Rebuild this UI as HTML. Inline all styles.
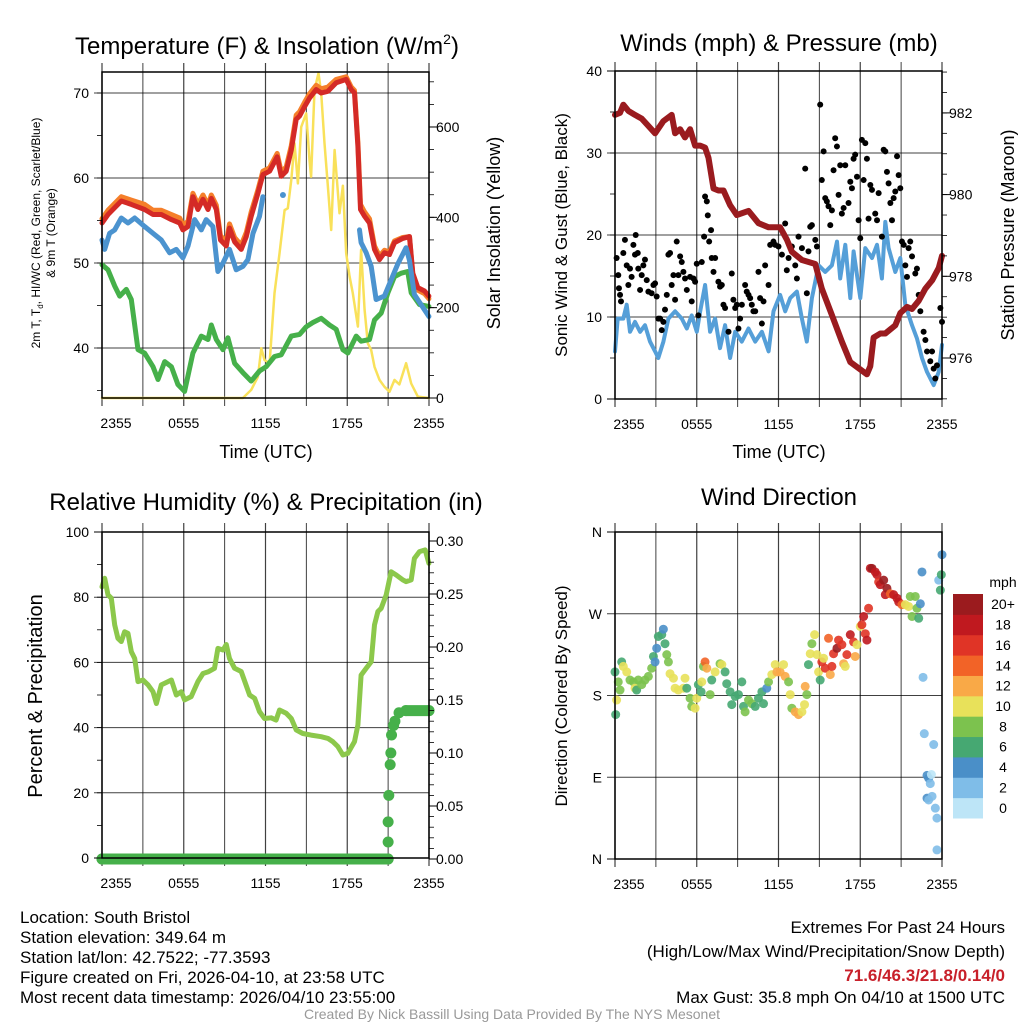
<!DOCTYPE html>
<html><head><meta charset="utf-8"><style>
html,body{margin:0;padding:0;background:#fff}
svg{display:block;font-family:"Liberation Sans",sans-serif}
</style></head><body>
<svg id="chart" xmlns="http://www.w3.org/2000/svg" width="1024" height="1024" viewBox="0 0 1024 1024">
<rect x="0" y="0" width="1024" height="1024" fill="#fff"/>
<g id="grids"></g>
<g id="series"></g>
<g id="axes"></g>
<g font-size="24" text-anchor="middle" fill="#000">
<text x="267" y="54">Temperature (F) &amp; Insolation (W/m<tspan font-size="14" dy="-10">2</tspan><tspan dy="10">)</tspan></text>
<text x="779" y="51">Winds (mph) &amp; Pressure (mb)</text>
<text x="266" y="510">Relative Humidity (%) &amp; Precipitation (in)</text>
<text x="779" y="505">Wind Direction</text>
</g>
<g font-size="18" text-anchor="middle">
<text x="266" y="458">Time (UTC)</text>
<text x="779" y="458">Time (UTC)</text>
<text transform="translate(500,233) rotate(-90)">Solar Insolation (Yellow)</text>
<text transform="translate(567,235) rotate(-90)" font-size="17">Sonic Wind &amp; Gust (Blue, Black)</text>
<text transform="translate(1014,235) rotate(-90)">Station Pressure (Maroon)</text>
<text transform="translate(42,696) rotate(-90)" font-size="20">Percent &amp; Precipitation</text>
<text transform="translate(567,696) rotate(-90)" font-size="17">Direction (Colored By Speed)</text>
</g>
<g font-size="12" text-anchor="middle">
<text transform="translate(40,233) rotate(-90)">2m T, T<tspan font-size="8" dy="3">d</tspan><tspan dy="-3">, HI/WC (Red, Green, Scarlet/Blue)</tspan></text>
<text transform="translate(55,233) rotate(-90)">&amp; 9m T (Orange)</text>
</g>
<g font-size="17" fill="#000">
<text x="20" y="923">Location: South Bristol</text>
<text x="20" y="943">Station elevation: 349.64 m</text>
<text x="20" y="963">Station lat/lon: 42.7522; -77.3593</text>
<text x="20" y="983">Figure created on Fri, 2026-04-10, at 23:58 UTC</text>
<text x="20" y="1003">Most recent data timestamp: 2026/04/10 23:55:00</text>
<g text-anchor="end">
<text x="1005" y="933">Extremes For Past 24 Hours</text>
<text x="1005" y="957">(High/Low/Max Wind/Precipitation/Snow Depth)</text>
<text x="1005" y="981" fill="#c8202a" font-weight="bold">71.6/46.3/21.8/0.14/0</text>
<text x="1005" y="1003">Max Gust: 35.8 mph On 04/10 at 1500 UTC</text>
</g>
</g>
<text x="512" y="1019" font-size="14" fill="#999" text-anchor="middle">Created By Nick Bassill Using Data Provided By The NYS Mesonet</text>
</svg>
<script>
// ---- Temperature panel data (hours since 2355 UTC) ----
const tempHours = [0,0.44,1.42,2.15,3.13,3.74,4.35,5.09,5.7,5.94,6.31,6.67,7.04,7.41,7.78,8.02,8.39,8.7,9.12,9.36,9.73,10.22,10.59,10.95,11.44,11.81,12.3,12.86,13.15,13.52,13.89,14.25,14.5,14.87,15.23,15.72,16.09,16.58,17.19,17.92,18.29,18.53,18.78,18.97,19.27,19.63,20,20.37,20.73,21.1,21.47,22.08,22.57,22.81,23.18,23.67,23.99];
const temp2m = [54.7,55.7,57.3,56.9,56.3,55.7,55.7,55.1,54.7,53.9,54.3,57.8,56.3,57.5,56.3,57.6,56.3,52.7,52,54.1,52.5,51.6,53.1,55.5,58.2,60.4,60.8,62.5,60.2,60.8,63.3,66.9,67.3,68.4,69.4,70.4,70,70.2,71.2,71.6,70.4,70,63.7,56.3,55.5,54.7,51.6,50.4,51.2,51,52.4,52.9,53.1,48.8,47.1,46.7,46.1];
const temp9m = [55.2,56.2,57.8,57.4,56.9,56.2,56.2,55.7,55.3,54.5,54.9,58.2,56.9,58,56.8,58,56.8,53.2,52.5,54.6,53,52.1,53.6,56,58.6,60.8,61.2,62.9,60.7,61.3,63.8,67.4,67.8,68.9,69.9,70.9,70.5,70.7,71.6,71.9,70.7,70.3,64.2,56.9,56,55.2,52,50.8,51.5,51.3,52.6,53,53.1,48.6,46.8,46.4,45.8];
const hiwcHours = [0,0.2,0.56,0.93,1.42,1.91,2.4,3.13,3.74,4.35,4.96,5.45,5.94,6.31,6.8,7.29,7.65,8.14,8.51,8.88,9.36,9.85,10.34,10.71,11.08,11.56,11.81,12.5,13.28,14,18.9,19.02,19.39,19.76,20.12,20.73,21.22,21.71,22.32,22.57,22.93,23.99];
const hiwc = [52.7,51.6,53.5,53.9,55.3,54.7,55.3,54.3,53.5,52.7,51.2,51.6,50.6,52,55.1,53.9,55.1,54.3,49,50,51.6,49.2,49.6,50.4,53.5,55.5,57.8,null,58,null,53.9,52.4,51.2,49.6,45.7,46.1,48,49.9,51.8,50.3,46.3,43.7];
const dewHours = [0,0.44,0.93,1.3,1.78,2.15,2.64,3.13,3.74,4.11,4.6,5.09,5.57,6.06,6.67,7.29,7.78,8.02,8.39,8.88,9.24,9.73,10.34,10.95,11.56,12.05,12.66,13.15,13.89,14.5,14.99,15.48,16.09,16.7,17.19,17.68,18.04,18.66,19.02,19.63,20,20.49,20.98,21.47,21.96,22.44,22.69,23.3,23.99];
const dewpoint = [49.8,49.2,47.3,46.1,46.9,45.7,39.8,39.4,37.8,36.3,38.4,37.8,35.7,34.9,39.4,41.4,41,42.7,41,39.8,41.2,38.2,37.1,36.1,37.3,37.8,39,39.2,41.4,41.6,42.5,43,43.5,42.7,42.2,39.8,39.4,41.4,40.8,41,43.3,44.1,46.5,48.4,48.8,49,46.5,45.1,44.9];
const solarHours = [0,10.34,10.95,11.44,11.69,11.93,12.3,12.66,13.03,13.4,13.64,13.89,14.13,14.38,14.62,14.99,15.23,15.35,15.6,15.89,16.09,16.33,16.58,16.82,17.07,17.43,17.68,17.92,18.17,18.41,18.78,19.02,19.27,19.51,19.76,20,20.37,20.73,21.1,21.47,21.83,22.32,22.69,23.18,23.99];
const solar = [0,0,18,47,110,84,77,232,320,416,420,483,564,475,600,630,527,490,682,719,675,564,468,372,549,409,470,320,269,232,158,328,195,121,106,69,40,25,14,40,30,77,32,3,0];
// ---- Winds panel data ----
const windHours = [0,0.2,0.61,0.86,1.1,1.47,1.84,2.2,2.57,2.94,3.18,3.55,3.92,4.41,4.9,5.27,5.63,6,6.25,6.61,6.98,7.35,7.71,8.08,8.45,8.82,9.31,9.8,10.29,10.78,11.27,11.63,12.12,12.49,12.86,13.35,13.72,14.08,14.45,14.94,15.43,15.92,16.29,16.53,16.9,17.27,17.51,18,18.37,18.86,19.23,19.59,19.84,20.08,20.57,20.94,21.31,21.8,22.16,22.53,22.9,23.39,23.76,24];
const windSpeed = [5.8,9.8,9.8,11.5,8.2,9.4,8.2,9,7,5.8,5,7,9.8,10.7,9.8,8.6,10.2,8.2,10.7,13.9,8.2,9.8,6.2,9,5,8.2,7,8.6,7,8.2,5.8,10.7,12.7,10.7,12.3,13.1,9.8,7,12.3,16.3,15.5,16.3,19.2,14.7,18.8,12.3,18,12.3,18.4,17.2,18.8,14.7,21.6,18.4,15.5,17.2,11.5,9,7.4,5,3.3,1.7,3.3,6.6];
const gustHours = [0.12,0.24,0.29,0.37,0.44,0.61,0.73,0.86,0.98,1.1,1.22,1.35,1.47,1.52,1.67,1.71,1.84,1.96,2.08,2.2,2.33,2.45,2.69,2.82,2.94,3.06,3.18,3.31,3.43,3.55,3.67,3.8,3.92,4.04,4.16,4.29,4.41,4.53,4.65,4.78,4.9,5.02,5.14,5.27,5.51,5.63,5.76,5.88,6,6.12,6.37,6.54,6.61,6.74,6.81,6.91,7.05,7.1,7.23,7.35,7.59,7.71,7.84,7.96,8.08,8.33,8.57,8.69,8.82,8.94,9.06,9.18,9.31,9.55,9.67,9.8,9.92,10.04,10.16,10.29,10.53,10.65,10.78,10.9,11.02,11.27,11.39,11.63,11.76,12,12.25,12.49,12.61,12.74,12.98,13.23,13.35,13.47,13.72,13.96,14.08,14.2,14.33,14.45,14.7,14.82,15.06,15.18,15.31,15.43,15.55,15.67,15.8,15.92,16.04,16.16,16.29,16.41,16.53,16.65,16.78,16.9,17.14,17.27,17.39,17.51,17.63,17.76,17.88,18,18.12,18.25,18.37,18.49,18.61,18.74,18.86,19.1,19.23,19.35,19.59,19.72,19.84,19.96,20.08,20.21,20.33,20.45,20.57,20.7,20.82,20.94,21.06,21.19,21.31,21.43,21.55,21.67,21.8,22.04,22.16,22.29,22.41,22.65,22.78,22.9,23.14,23.27,23.39,23.51,23.63,23.88,24];
const gustSpeed = [17.2,15.1,13.5,12.7,11.9,17.8,19.4,16.3,13.9,15.9,14.9,18.8,17.6,20,17.8,15.9,13.3,15.1,16.3,17,14.5,13.1,12.9,13.9,14.1,12.5,9.8,9.8,8.4,9.4,10.9,12.7,17.6,17.8,13.9,15.1,12.1,19.2,15.1,17.4,16.7,15.5,14.7,13.3,14.9,11.9,14.7,14.3,16.5,10.2,16.7,19.8,24.7,24.1,22.4,19.2,20.6,17.2,15.5,17.2,14.3,13.7,13.9,11.5,11.1,8.2,15.3,12.1,11.1,11.5,8.6,9.8,11.5,13.9,13.1,12.7,12.3,11.5,10.7,10.7,15.5,12.3,9.2,11.9,16.3,13.9,18.8,19.2,18.8,18.6,17.6,21.4,15.7,17.2,18.6,16.3,14.7,19.8,18.4,28.1,12.9,18,21,21.2,19.4,18.6,35.9,26.7,30.2,24.5,24.1,23.5,21.2,23,27.9,31.8,30.8,24.9,28.5,22.6,23.3,28.5,23.9,26.5,25.7,29.3,29.8,27.1,21.8,19.6,31.6,26.7,31.2,29.3,22,26.1,25.5,22.6,21.8,25.1,19.8,30.4,30.2,27.7,26.3,23.9,21.8,24.5,25.3,29.6,27.3,25.7,19.2,18.8,16.3,14.9,18.4,19.2,17.4,15.3,15.9,12.7,10.7,8.2,7.2,5.8,4.6,5.8,3.7,2.5,4.1,11.1,9.4];
const presHours = [0,0.37,0.61,0.98,1.47,1.96,2.94,3.55,4.16,4.41,4.78,5.14,5.51,5.88,6.25,6.61,6.86,7.23,7.59,7.96,8.45,8.94,9.8,10.53,11.27,12.12,12.61,12.98,13.72,14.7,15.18,15.92,16.65,17.27,17.88,18.49,18.74,18.98,19.47,19.84,20.57,20.94,21.43,21.8,22.29,22.78,23.27,23.76,24];
const pressure = [981.95,982.0,982.2,982.05,981.95,981.86,981.5,981.8,981.95,981.5,981.6,981.4,981.6,981.2,981.2,981.15,980.9,980.15,980.1,980.1,979.74,979.5,979.6,979.3,979.2,979.2,978.9,978.6,978.4,978.3,977.7,977.05,976.4,975.9,975.75,975.6,975.8,976.5,976.6,976.6,976.8,977.1,977.25,977.2,977.4,977.7,977.9,978.2,978.5];
// ---- Humidity panel data ----
const rhHours = [0,0.2,0.44,0.68,0.93,1.17,1.42,1.66,1.91,2.15,2.4,2.64,3.01,3.38,3.74,3.99,4.35,4.6,5.09,5.45,5.82,6.06,6.55,7.04,7.41,7.78,8.26,8.51,8.88,9.12,9.36,9.73,10.22,10.83,11.2,11.56,11.93,12.42,12.78,13.03,13.52,13.89,14.25,14.74,15.35,16.09,16.58,16.94,17.31,17.68,18.04,18.53,18.78,19.02,19.39,19.76,20,20.25,20.49,20.86,21.22,21.59,22.08,22.32,22.69,22.93,23.3,23.72,23.99];
const rh = [83.2,85.8,80.7,79.7,71.5,67.4,66.4,69.4,68.9,63.3,61.2,54.1,54.6,53.1,51,47.4,53.1,53.6,54.6,50,51,48.5,49.5,54.1,56.6,57.1,58.2,64.3,63.8,65.5,61.2,58.2,57.2,50,49,44.9,42.8,43,42.3,45.4,44.4,42.8,39.3,38.2,37.7,37.2,36.7,35.7,34.2,31.6,32.1,35.7,40.8,56.1,58.2,60.2,71.5,75.6,76.6,80.7,87.8,86.8,85.3,84.8,85.3,91.9,94,94.5,90.4];
const precipHours = [0,21.0,21.0,21.0,21.05,21.15,21.2,21.25,21.4,21.5,21.8,22.3,24];
const precip = [0,0,0.016,0.035,0.06,0.089,0.1,0.117,0.126,0.13,0.138,0.14,0.14];
// ---- Wind direction panel data ----
const dirHours = [0,0.12,0.05,0.24,0.37,0.49,0.61,0.86,1.1,1.35,1.47,1.59,1.71,1.96,2.2,2.45,2.69,2.82,2.94,3.06,3.18,3.43,3.55,3.67,3.8,3.92,4.04,4.29,4.41,4.65,5.02,5.14,5.27,5.51,5.63,5.88,6,6.12,6.37,6.32,6.49,6.61,6.74,6.98,7.1,7.35,7.71,7.84,8.08,8.2,8.45,8.57,8.82,9.06,9.31,9.43,9.55,9.8,10.04,10.29,10.53,10.78,10.9,11.14,11.27,11.51,11.76,11.88,12.12,12.37,12.49,12.74,12.86,12.98,13.23,13.47,13.72,13.91,13.96,14.08,14.2,14.33,14.45,14.65,14.82,14.94,15.06,15.18,15.31,15.43,15.67,15.8,15.92,16.04,16.29,16.41,16.65,16.78,16.9,17.02,17.27,17.51,17.63,17.76,18,18.12,18.25,18.37,18.49,18.61,18.74,18.86,19.1,19.23,19.35,19.47,19.72,19.84,19.96,20.21,20.45,20.7,20.82,21.06,21.31,21.55,21.67,21.8,22.04,22.16,22.29,22.41,22.53,22.61,22.7,22.9,23.02,23.14,23.22,22.9,23.02,23.27,23.39,23.51,23.63,23.63,23.76,23.88,23.95,24];
const dirDeg = [206,175,159,195,186,217,212,206,197,195,188,186,197,192,197,201,210,223,217,232,245,247,253,237,225,217,204,199,188,186,188,199,188,177,168,166,177,192,195,184,212,217,210,181,197,206,215,214,206,193,184,170,179,181,195,168,162,175,171,168,177,184,171,188,195,203,214,206,206,214,201,195,181,166,162,159,162,170,190,181,214,226,237,247,225,206,197,217,221,210,243,203,212,226,232,241,236,215,212,225,247,239,223,236,256,258,267,248,241,276,320,320,316,313,305,302,307,291,298,292,291,287,283,280,280,278,289,267,289,276,265,281,316,200,138,92,89,83,93,67,65,69,126,56,45,10,307,296,313,335];
const dirSpeed = [7,11,7,9,9,7,11,11,9,9,11,7,9,9,9,9,9,7,5,5,7,7,5,7,9,9,11,11,11,11,11,11,7,9,9,11,11,7,11,7,9,15,13,9,7,11,9,11,7,7,7,7,7,7,7,7,9,9,9,7,7,7,7,5,9,11,11,13,13,11,13,9,11,9,13,13,11,11,13,9,7,11,9,11,11,11,7,17,11,17,15,13,17,17,21,17,17,13,11,17,19,17,13,11,11,17,19,17,19,17,19,21,19,19,17,19,21,19,21,15,19,19,19,15,11,11,9,9,9,9,7,5,5,3,3,5,5,3,1,5,3,3,3,3,3,3,3,7,7,5];
const speedLabels = ["0","2","4","6","8","10","12","14","16","18","20+"];
const speedColors = ["#bde5f7","#7fbde8","#4a8fc8","#46a872","#7cc24e","#e8e15a","#f9a947","#f26327","#e03426","#c0191f","#9b1b1e"];

const NS = "http://www.w3.org/2000/svg";
const gGrid = document.getElementById('grids');
const gSer = document.getElementById('series');
const gAx = document.getElementById('axes');
function mk(parent, tag, attrs){const e=document.createElementNS(NS,tag);for(const k in attrs)e.setAttribute(k,attrs[k]);parent.appendChild(e);return e;}

const P1 = {x0:102,x1:429,y0:72,y1:398};
const P2 = {x0:615,x1:942,y0:71,y1:399};
const P3 = {x0:102,x1:429,y0:532,y1:858};
const P4 = {x0:615,x1:942,y0:532,y1:859};
const xL = h => P1.x0 + h*(P1.x1-P1.x0)/24;
const xR = h => P2.x0 + h*(P2.x1-P2.x0)/24;
const yTemp = t => 93 + (70-t)*8.5;
const ySolar = w => 398 - w*0.4517;
const yWind = m => 399 - m*8.2;
const yPres = p => 358 - (p-976)*40.85;
const yRH = r => 858 - r*3.26;
const yPrecip = p => 859 - p*1060;
const yDir = d => 859 - d*327/360;

function txt(parent, x, y, s, anchor, size){const t=mk(parent,'text',{x:x,y:y,'text-anchor':anchor,'font-size':size||14});t.textContent=s;return t;}

function frame(P, name, xf){
  for(let h=0;h<=24;h+=3){
    const x=xf(h);
    const l=mk(gGrid,'line',{x1:x,x2:x,y1:P.y0-9,y2:P.y1+8,stroke:'#000','stroke-width':(h%6===0?1.2:1),'stroke-opacity':0.75});
    
    
  }
  const r=mk(gAx,'rect',{x:P.x0,y:P.y0,width:P.x1-P.x0,height:P.y1-P.y0,fill:'none',stroke:'#000','stroke-width':1.5});
  
  
  const labs=["2355","0555","1155","1755","2355"];
  for(let i=0;i<5;i++){
    let x=xf(i*6); if(i===0) x+=14;
    const t=txt(gAx,x,P.y1+30,labs[i],'middle',14);
    
    
  }
}
function hgrid(P, name, yvals, yf, labels, side, minorStep, lo, hi){
  yvals.forEach((v,i)=>{
    const y=yf(v);
    if(side==='left'){
      if(y>P.y0+2 && y<P.y1-2){
        const l=mk(gGrid,'line',{x1:P.x0-8,x2:P.x1,y1:y,y2:y,stroke:'#000','stroke-width':1,'stroke-opacity':0.75});
        
        
      } else {
        const l=mk(gAx,'line',{x1:P.x0-8,x2:P.x0,y1:y,y2:y,stroke:'#000','stroke-width':1});
        
        
      }
      const t=txt(gAx,P.x0-13,y+5,labels[i],'end',14);
      
      
    } else {
      const l=mk(gAx,'line',{x1:P.x1,x2:P.x1+8,y1:y,y2:y,stroke:'#000','stroke-width':1});
      
      
      const t=txt(gAx,P.x1+7,y+5,labels[i],'start',14);
      
      
    }
  });
  if(minorStep){
    for(let v=lo; v<=hi+1e-9; v+=minorStep){
      const y=yf(v); if(y<P.y0-1||y>P.y1+1) continue;
      const x1 = side==='left'?P.x0-5:P.x1, x2 = side==='left'?P.x0:P.x1+5;
      const l=mk(gAx,'line',{x1:x1,x2:x2,y1:y,y2:y,stroke:'#000','stroke-width':0.8});
      
      
    }
  }
}
function line(xs, ys, xf, yf, color, w, name){
  let seg=[];
  const flush=()=>{
    if(seg.length===1){
      const c=mk(gSer,'circle',{cx:seg[0][0],cy:seg[0][1],r:w/2+0.5,fill:color});
      
      
    } else if(seg.length>1){
      const p=mk(gSer,'polyline',{points:seg.map(q=>q[0].toFixed(1)+','+q[1].toFixed(1)).join(' '),fill:'none',stroke:color,'stroke-width':w,'stroke-linejoin':'round','stroke-linecap':'round'});
      
      
    }
    seg=[];
  };
  for(let i=0;i<xs.length;i++){
    if(ys[i]===null){flush();continue;}
    seg.push([xf(xs[i]),yf(ys[i])]);
  }
  flush();
}

frame(P1,'temperature',xL);
hgrid(P1,'temperature',[40,50,60,70],yTemp,["40","50","60","70"],'left',5,35,70);
hgrid(P1,'solar',[0,200,400,600],ySolar,["0","200","400","600"],'right',50,0,700);
line(solarHours,solar,xL,ySolar,'#f9e15a',2.5,'solar-insolation-line');
line(dewHours,dewpoint,xL,yTemp,'#46b04a',5,'dewpoint-line');
line(tempHours,temp9m,xL,yTemp,'#f57f2a',5,'temp-9m-line');
line(tempHours,temp2m,xL,yTemp,'#d42a26',5,'temp-2m-line');
line(hiwcHours,hiwc,xL,yTemp,'#4b93cf',5,'heat-index-windchill-line');

frame(P2,'winds',xR);
hgrid(P2,'winds',[0,10,20,30,40],yWind,["0","10","20","30","40"],'left',5,0,40);
hgrid(P2,'pressure',[976,978,980,982],yPres,["976","978","980","982"],'right',0.5,975,983);
line(windHours,windSpeed,xR,yWind,'#559fd8',4,'sustained-wind-line');
for(let i=0;i<gustHours.length;i++){
  const c=mk(gSer,'circle',{cx:xR(gustHours[i]),cy:yWind(gustSpeed[i]),r:3,fill:'#000'});
  
  
}
line(presHours,pressure,xR,yPres,'#9a1b1f',6,'pressure-line');

frame(P3,'humidity',xL);
hgrid(P3,'humidity',[0,20,40,60,80,100],yRH,["0","20","40","60","80","100"],'left',10,0,100);
hgrid(P3,'precip',[0,0.05,0.1,0.15,0.2,0.25,0.3],yPrecip,["0.00","0.05","0.10","0.15","0.20","0.25","0.30"],'right',0.01,0,0.3);
line(rhHours,rh,xL,yRH,'#8cc84b',5,'relative-humidity-line');
for(let i=0;i<precipHours.length;i++){
  if(i>0 && precip[i]===precip[i-1]){
    const l=mk(gSer,'line',{x1:xL(precipHours[i-1]),x2:xL(precipHours[i]),y1:yPrecip(precip[i]),y2:yPrecip(precip[i]),stroke:'#46b04a','stroke-width':11,'stroke-linecap':'round'});
    
    
  }
  const c=mk(gSer,'circle',{cx:xL(precipHours[i]),cy:yPrecip(precip[i]),r:5.5,fill:'#46b04a'});
  
  
}

frame(P4,'direction',xR);
hgrid(P4,'direction',[0,90,180,270,360],yDir,["N","E","S","W","N"],'left',0,0,0);
for(let i=0;i<dirHours.length;i++){
  const b=Math.min(10,Math.floor(dirSpeed[i]/2));
  const c=mk(gSer,'circle',{cx:xR(dirHours[i]),cy:yDir(dirDeg[i]),r:4.5,fill:speedColors[b],'fill-opacity':0.9});
  
  
}
const cbTop=594, cbH=224/11;
for(let i=0;i<11;i++){
  const y=cbTop+(10-i)*cbH;
  const r=mk(gAx,'rect',{x:953,y:y,width:30,height:cbH+0.5,fill:speedColors[i]});
  
  
  const t=txt(gAx,1003,y+cbH/2+5,speedLabels[i],'middle',14);
  
  
}
const u=txt(gAx,1003,587,'mph','middle',14);


</script>
</body></html>
